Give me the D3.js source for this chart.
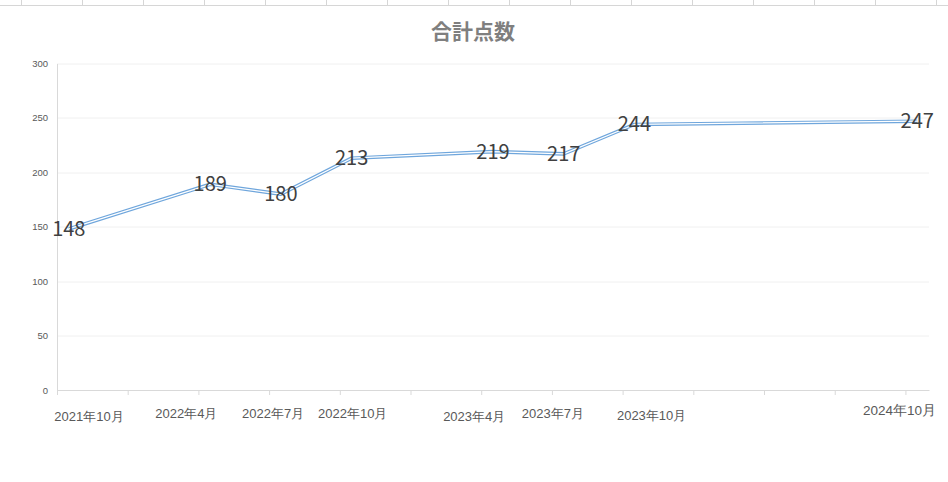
<!DOCTYPE html>
<html>
<head>
<meta charset="utf-8">
<script src="https://cdn.jsdelivr.net/npm/d3@7"></script>
<style>
  body { margin: 0; background: #fff; }
  svg { display: block; font-family: "Noto Sans CJK JP", "Noto Sans", sans-serif; }
  .grid line { stroke: #f0f0f0; }
  .yaxis text { fill: #595959; font-size: 9.5px; }
  .dataLabel { fill: #404040; font-size: 20px; text-anchor: middle; }
  .xlabel { fill: #595959; font-size: 13px; text-anchor: middle; }
</style>
</head>
<body>
<div id="chart"></div>
<script>
// data
var months     = ["2021-10", "2022-04", "2022-07", "2022-10", "2023-04", "2023-07", "2023-10", "2024-10"];
var scores     = [148, 189, 180, 213, 219, 217, 244, 247];
var tickLabels = ["2021年10月", "2022年4月", "2022年7月", "2022年10月", "2023年4月", "2023年7月", "2023年10月", "2024年10月"];
var yTicks     = [0, 50, 100, 150, 200, 250, 300];
var title      = "合計点数";

// hand placed label nudges (the labels in the original are not on the ticks)
var labelNudge = [[32, 3], [-12, 0], [4, 0], [13, 0], [-7, 3], [1, 0], [29, 2], [-6, -3]];

var W = 948, H = 482;
var margin = {top: 63.5, right: 19, bottom: 92, left: 57};
var width  = W - margin.left - margin.right;
var height = H - margin.top - margin.bottom;

var startMonth = 2021 * 12 + 10;
function monthIndex(s) {
  var p = s.split("-");
  return +p[0] * 12 + +p[1] - startMonth;
}
var data = months.map((m, i) => ({idx: monthIndex(m), value: scores[i], label: tickLabels[i]}));

var svg = d3.select("#chart").append("svg")
  .attr("width", W)
  .attr("height", H);

// spreadsheet cell lines peeking out above the chart
svg.append("line")
  .attr("x1", 0).attr("x2", W).attr("y1", 5.5).attr("y2", 5.5)
  .attr("stroke", "#d6d6d6");
svg.selectAll(".cell")
  .data(d3.range(21.5, W, 61))
  .enter().append("line")
  .attr("x1", d => d).attr("x2", d => d)
  .attr("y1", 0).attr("y2", 5.5)
  .attr("stroke", "#d6d6d6");

svg.append("text")
  .attr("x", 473)
  .attr("y", 39)
  .attr("text-anchor", "middle")
  .attr("font-size", "21px")
  .attr("font-weight", "bold")
  .attr("fill", "#7f7f7f")
  .text(title);

var plot = svg.append("g")
  .attr("transform", "translate(" + margin.left + "," + margin.top + ")");

// months 2021/10 .. 2024/10 inclusive, each month one slot
var xScale = d3.scaleLinear()
  .domain([0, monthIndex("2024-11")])
  .range([0, width]);

var yScale = d3.scaleLinear()
  .domain([0, 300])
  .range([height, 0]);

// gridlines
plot.append("g")
  .attr("class", "grid")
  .selectAll("line")
  .data(yTicks.filter(d => d > 0))
  .enter().append("line")
  .attr("x1", 0).attr("x2", width)
  .attr("y1", d => Math.round(yScale(d)) + 0.5)
  .attr("y2", d => Math.round(yScale(d)) + 0.5);

// y axis
var yAxis = d3.axisLeft(yScale).tickValues(yTicks).tickSize(0).tickPadding(9);
var yg = plot.append("g")
  .attr("class", "yaxis")
  .call(yAxis);
yg.select(".domain").attr("stroke", "#d9d9d9");

// x axis, quarterly tick marks
var xAxis = d3.axisBottom(xScale)
  .tickValues(d3.range(0, 37, 3))
  .tickSize(5)
  .tickSizeOuter(0)
  .tickFormat("");
var xg = plot.append("g")
  .attr("class", "xaxis")
  .attr("transform", "translate(0," + height + ")")
  .call(xAxis);
xg.select(".domain").attr("stroke", "#d9d9d9");
xg.selectAll(".tick line").attr("stroke", "#d9d9d9");

xg.selectAll(".xlabel")
  .data(data)
  .enter().append("text")
  .attr("class", "xlabel")
  .attr("x", (d, i) => xScale(d.idx) + labelNudge[i][0])
  .attr("y", (d, i) => 27.5 + labelNudge[i][1])
  .attr("fill", (d, i) => i == data.length - 1 ? "#7f7f7f" : "#595959")
  .style("font-size", (d, i) => i == data.length - 1 ? "13.5px" : null)
  .text(d => d.label);

// line, drawn as a double line
var line = d3.line()
  .x(d => xScale(d.idx + 0.5))
  .y(d => yScale(d.value));

plot.append("path")
  .datum(data)
  .attr("fill", "none")
  .attr("stroke", "#6fa6dc")
  .attr("stroke-width", 3.6)
  .attr("stroke-linejoin", "round")
  .attr("d", line);

plot.append("path")
  .datum(data)
  .attr("fill", "none")
  .attr("stroke", "#fff")
  .attr("stroke-width", 1.2)
  .attr("stroke-linejoin", "round")
  .attr("d", line);

plot.selectAll(".dataLabel")
  .data(data)
  .enter().append("text")
  .attr("class", "dataLabel")
  .attr("x", d => xScale(d.idx + 0.5))
  .attr("y", d => yScale(d.value))
  .attr("dy", "0.35em")
  .text(d => d.value);
</script>
</body>
</html>
